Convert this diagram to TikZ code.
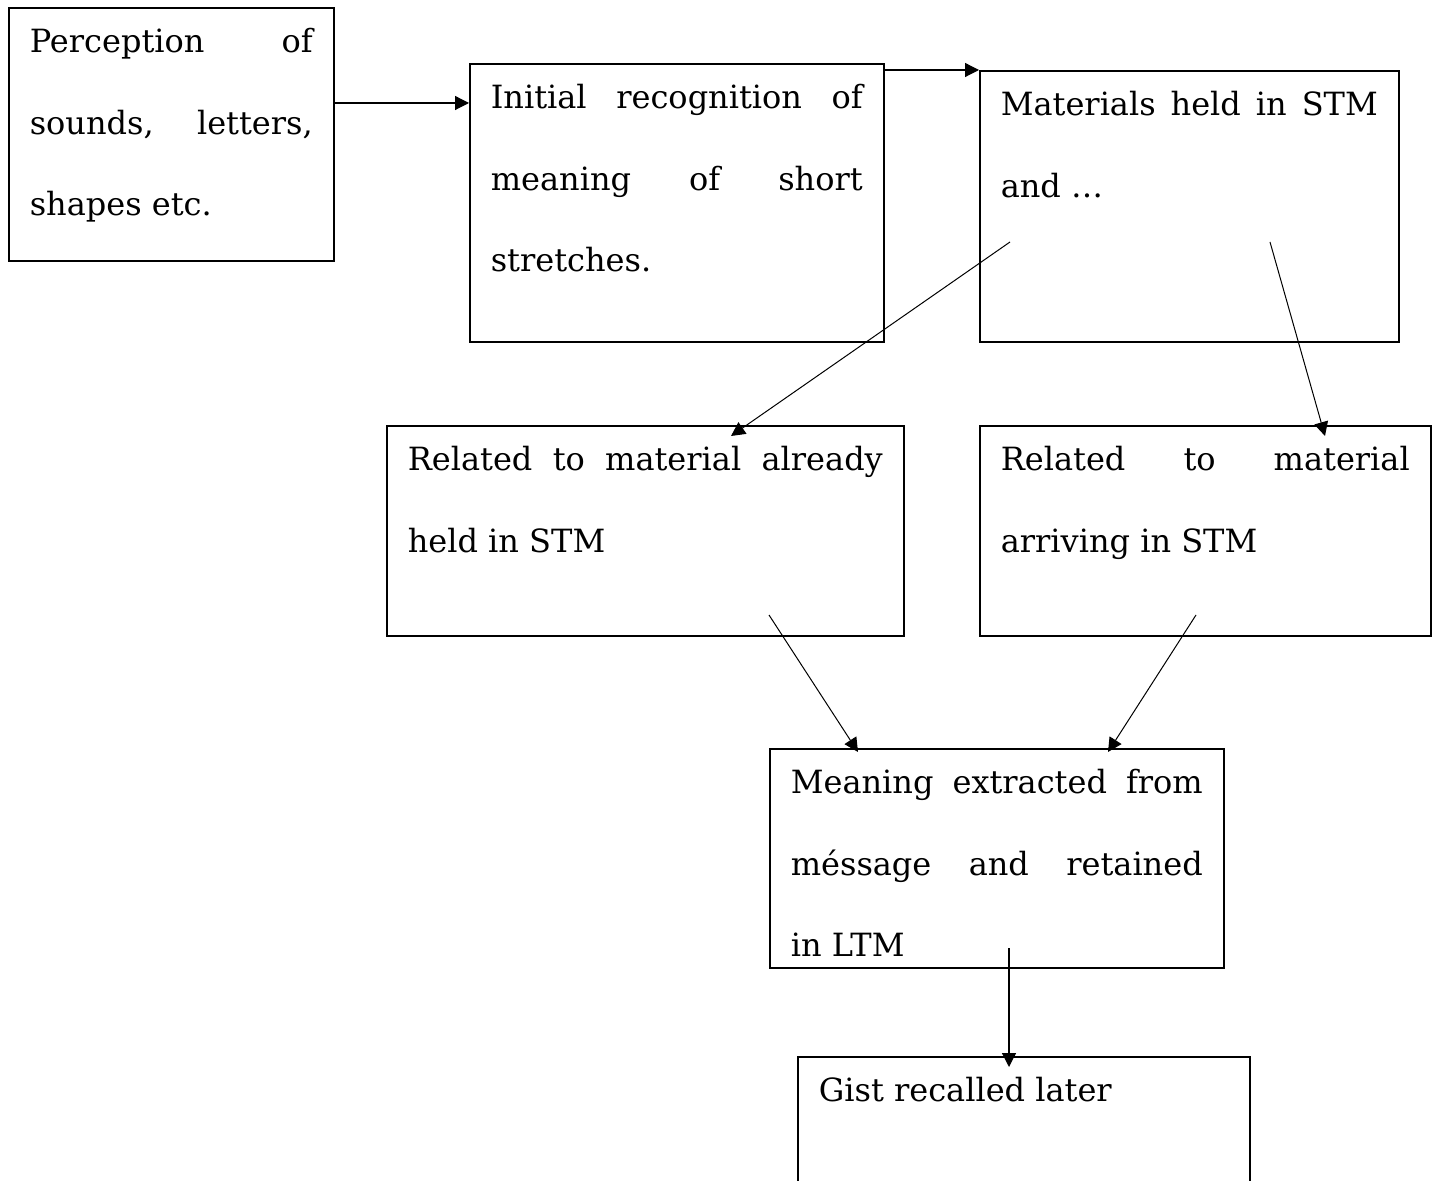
\documentclass[tikz,border=0pt]{standalone}
\usepackage{fontspec}
\setmainfont{DejaVu Serif}
\usetikzlibrary{arrows.meta}

\begin{document}
\begin{tikzpicture}[x=0.5pt, y=-0.5pt, every node/.style={font=\fontsize{16}{40.75}\selectfont},
  blk/.style={draw, line width=0.8pt, anchor=north west, inner xsep=10.5pt, inner ysep=0pt, align=justify, text height=22.5pt},
  arr/.style={-{Triangle[length=7pt, width=7pt]}, line width=0.6pt}]
\useasboundingbox (0,0) rectangle (1436,1181);
\node[blk, text width=141.5pt, text depth=104pt] (perc) at (8,7) {Perception of\linebreak sounds, letters,\linebreak shapes etc.};
\node[blk, text width=186pt, text depth=116.5pt] (init) at (469,63) {Initial recognition of\linebreak meaning of short\linebreak stretches.};
\node[blk, text width=188.5pt, text depth=113pt] (stm) at (979,70) {Materials held in STM\linebreak and …};
\node[blk, text width=237.5pt, text depth=82.5pt] (held) at (386,425) {Related to material already\linebreak held in STM};
\node[blk, text width=204.5pt, text depth=82.5pt] (arriv) at (979,425) {Related to material\linebreak arriving in STM};
\node[blk, text width=206pt, text depth=87pt] (ltm) at (769,748) {Meaning extracted from\linebreak méssage and retained\linebreak in LTM};
\node[blk, text width=205pt, text depth=100pt] (gist) at (797,1056) {Gist recalled later};
% free ends inside the boxes
\coordinate (ab) at (335,103);
\coordinate (stmL) at (1010,242); \coordinate (heldIn) at (731,436);
\coordinate (stmR) at (1270,242); \coordinate (arrivIn) at (1325,436);
\coordinate (heldOut) at (769,615); \coordinate (ltmL) at (858,752);
\coordinate (arrivOut) at (1196,615); \coordinate (ltmR) at (1108,752);
\coordinate (ltmOut) at (1009,948); \coordinate (gistIn) at (1009,1067);
\draw[arr] (ab) -- (ab -| init.west);
\draw[arr] (init.east |- stm.north) -- (stm.north west);
\draw[arr, line width=0.5pt] (stmL) -- (heldIn); \draw[arr, line width=0.5pt] (stmR) -- (arrivIn);
\draw[arr, line width=0.5pt] (heldOut) -- (ltmL); \draw[arr, line width=0.5pt] (arrivOut) -- (ltmR);
\draw[arr] (ltmOut) -- (gistIn);
\end{tikzpicture}
\end{document}
